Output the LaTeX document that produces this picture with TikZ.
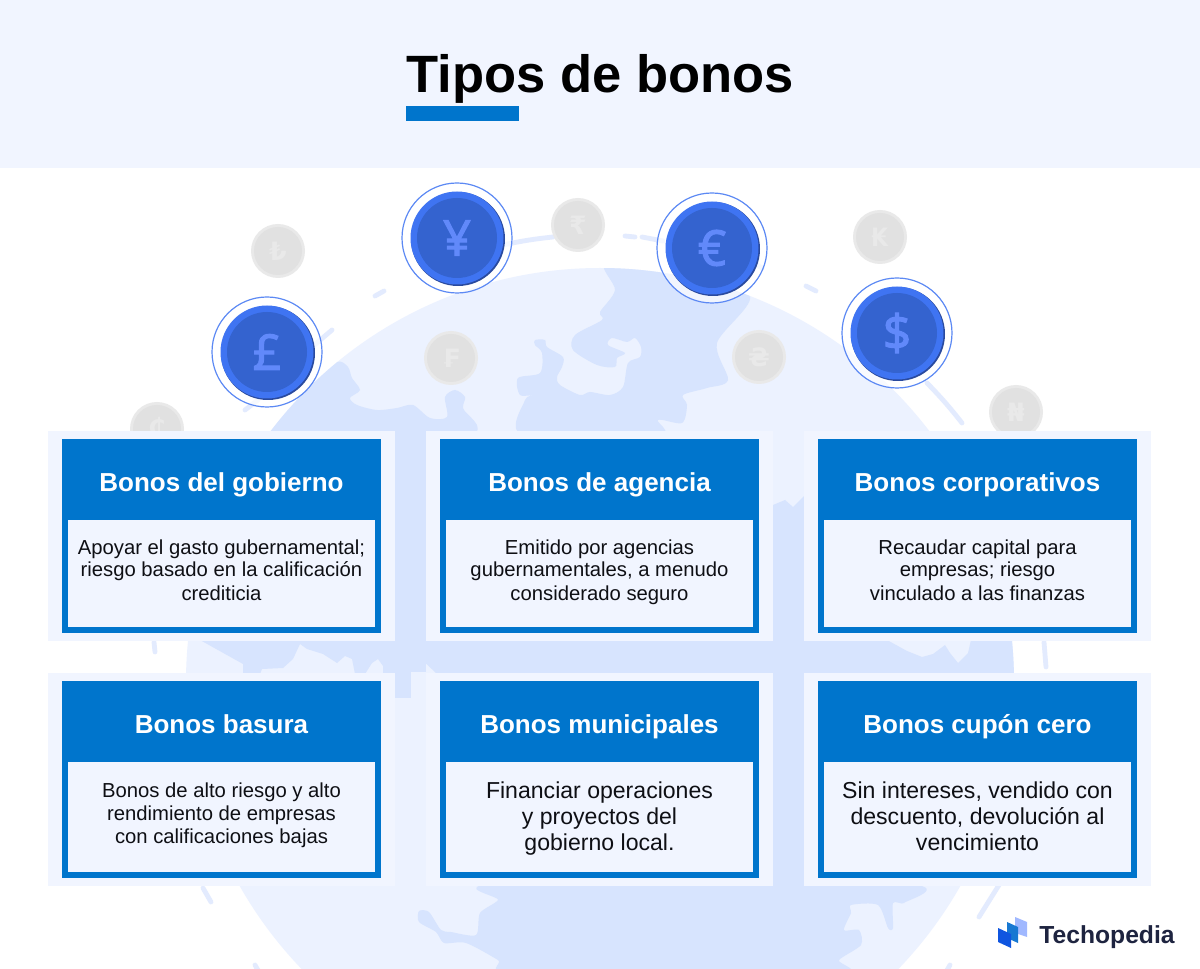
\documentclass[tikz,border=0pt]{standalone}
\usepackage{fontspec}
\setmainfont{Liberation Sans}
\newfontfamily\symfont{DejaVu Sans}
\newfontfamily\coinfont[FakeBold=2]{Noto Sans}
\usetikzlibrary{calc}
\definecolor{band}{HTML}{F1F5FF}
\definecolor{globe}{HTML}{ECF2FF}
\definecolor{land}{HTML}{D7E4FE}
\definecolor{orbit}{HTML}{E3EBFE}
\definecolor{cardblue}{HTML}{0075CC}
\definecolor{coinring}{HTML}{3F74F2}
\definecolor{coinedge}{HTML}{2A4A9E}
\definecolor{coininner}{HTML}{3463CF}
\definecolor{coinsym}{HTML}{6189FA}
\definecolor{graycoin}{HTML}{E1E1E1}
\definecolor{grayring}{HTML}{E9E9E9}
\definecolor{graysym}{HTML}{E9E9E9}
\definecolor{ink}{HTML}{0E0F14}
\definecolor{logoink}{HTML}{1E2440}
\tikzset{
  px/.style={x=0.75pt,y=-0.75pt},
  landshape/.style={fill=land,draw=none},
  orbitdash/.style={draw=orbit,line width=3.6pt,line cap=round},
  headtext/.style={text=white,font=\fontsize{19.5pt}{22pt}\selectfont\bfseries,inner sep=0pt,anchor=base},
  bodytext/.style={text=ink,align=center,font=\fontsize{15.2pt}{17.25pt}\selectfont,inner sep=0pt,anchor=base},
  bigbody/.style={text=ink,align=center,font=\fontsize{17.3pt}{19.5pt}\selectfont,inner sep=0pt,anchor=base},
  coinsymbol/.style={text=coinsym,font=\coinfont\fontsize{37pt}{37pt}\selectfont,inner sep=0pt},
  graysymbol/.style={text=graysym,font=\symfont\bfseries\fontsize{19pt}{19pt}\selectfont,inner sep=0pt},
}
\newcommand{\bluecoin}[4]{%
  \fill[white,opacity=.65] (#1,#2) circle (55);
  \draw[coinring!85!white,line width=0.9pt] (#1,#2) circle (55);
  \fill[coinedge] (#1+1,#2+1) circle (47);
  \fill[coinring] (#1,#2) circle (46.5);
  \fill[coininner] (#1,#2) circle (40);
  \node[coinsymbol] (#4) at (#1,#2) {#3};
}
\newcommand{\greycoin}[4]{%
  \fill[grayring] (#1,#2) circle (27);
  \fill[graycoin] (#1,#2) circle (24);
  \node[graysymbol] (#4) at (#1,#2) {#3};
}
\newcommand{\cardbox}[8]{%
  \fill[band] (#1-14,#2-8) rectangle (#1+333,#2+#3+8);
  \fill[cardblue] (#1,#2) rectangle (#1+319,#2+#3);
  \fill[band] (#1+6,#2+81) rectangle (#1+313,#2+#3-6);
  \node[headtext] (#4h) at (#1+159.5,#2+52.5) {#5};
  \node[#8] (#4b) at (#1+159.5,#7) {#6};
}
\begin{document}
\begin{tikzpicture}[px]
\useasboundingbox (0,0) rectangle (1200,969);
\fill[white] (0,0) rectangle (1200,969);
\fill[band] (0,0) rectangle (1200,168);
% globe
\begin{scope}
\clip (0,168) rectangle (1200,969);
\fill[globe] (600,682) circle (414);
\clip (600,682) circle (414);
% left land
\fill[landshape] plot[smooth cycle,tension=.5] coordinates {(272,435)(287,407)(313,383)(337,362)(348,367)(352,378)(360,390)(350,398)(357,405)(377,410)(397,408)(413,405)(430,418)(447,417)(445,397)(455,390)(465,397)(463,408)(467,435)};
% central land
\fill[landshape] plot[smooth cycle,tension=.5] coordinates {(607,262)(615,290)(600,312)(602,320)(575,335)(573,350)(597,365)(615,367)(617,358)(625,353)(608,345)(612,338)(627,342)(635,338)(641,347)(640,357)(628,363)(623,387)(610,395)(590,392)(580,395)(560,385)(557,377)(562,367)(563,357)(547,347)(545,340)(535,340)(535,345)(542,353)(540,373)(518,378)(520,395)(535,395)(525,400)(524,436)(658,436)(658,420)(682,423)(687,405)(683,395)(707,388)(728,380)(717,343)(750,297)(700,270)};
% row gap and column gaps
\fill[landshape] (395,431) rectangle (426,672);
\fill[landshape] (395,672) rectangle (411,698);
\fill[landshape] (773,505) -- (785,500) -- (793,507) -- (805,495) -- (805,900) -- (773,900) -- cycle;
\fill[landshape] (200,640) -- (243,664) -- (243,674) -- (260,674) -- (262,669) -- (283,668) -- (293,659) -- (300,644) -- (307,649) -- (323,654) -- (337,663) -- (345,656) -- (352,659) -- (355,674) -- (365,674) -- (372,663) -- (378,659) -- (383,666) -- (383,674) -- (395,674) -- (395,640) -- cycle;
\fill[landshape] (411,640) -- (411,660) -- (417,655) -- (437,674) -- (1020,674) -- (1020,640) -- (971,640) -- (968,653) -- (958,663) -- (950,653) -- (945,645) -- (933,654) -- (922,657) -- (907,651) -- (887,640) -- cycle;
% bottom land
\fill[landshape] plot[smooth cycle,tension=.45] coordinates {(498,884)(498,900)(480,913)(476,935)(451,932)(441,930)(429,912)(419,911)(419,922)(436,932)(444,943)(466,943)(498,960)(520,975)(834,975)(839,960)(861,945)(859,930)(844,930)(851,913)(851,905)(878,905)(888,928)(893,928)(893,903)(904,903)(904,884)};
\end{scope}
% orbit dashes
\draw[orbitdash] (245,410) -- (258,400);
\draw[orbitdash] (312,347) -- (332,330);
\draw[orbitdash] (375,296) -- (384,291);
\draw[orbitdash] (503,245) to[bend left=3] (553,237);
\draw[orbitdash] (625,236) -- (635,237);
\draw[orbitdash] (642,237) -- (663,241);
\draw[orbitdash] (757,265) -- (762,268);
\draw[orbitdash] (806,286) -- (816,291);
\draw[orbitdash] (927,383) to[bend left=3] (962,423);
\draw[orbitdash] (1044,642) -- (1046,667);
\draw[orbitdash] (154,642) -- (155,652);
\draw[orbitdash] (203,888) -- (211,902);
\draw[orbitdash] (999,885) -- (979,917);
\draw[orbitdash] (950,965) -- (946,972);
\draw[orbitdash] (255,965) -- (259,972);
% grey coins
\greycoin{278}{251}{₺}{coinTry}
\greycoin{578}{225}{₹}{coinInr}
\greycoin{451}{358}{₣}{coinFrf}
\greycoin{880}{237}{₭}{coinKip}
\greycoin{759}{357}{₴}{coinUah}
\greycoin{1016}{412}{₦}{coinNgn}
\greycoin{157}{429}{₵}{coinGhs}
% blue coins
\bluecoin{267}{352}{£}{coinGbp}
\bluecoin{457}{238}{¥}{coinJpy}
\bluecoin{712}{248}{€}{coinEur}
\bluecoin{897}{333}{\$}{coinUsd}
% title
\node[font=\fontsize{39.4pt}{44pt}\selectfont\bfseries,text=black,inner sep=0pt,anchor=base] (title) at (600,93) {Tipos de bonos};
\fill[cardblue] (406,106) rectangle (519,121);
% cards
\cardbox{62}{439}{194}{a}{Bonos del gobierno}{Apoyar el gasto gubernamental;\\riesgo basado en la calificación\\crediticia}{600}{bodytext}
\cardbox{440}{439}{194}{b}{Bonos de agencia}{Emitido por agencias\\gubernamentales, a menudo\\considerado seguro}{600}{bodytext}
\cardbox{818}{439}{194}{c}{Bonos corporativos}{Recaudar capital para\\empresas; riesgo\\vinculado a las finanzas}{600}{bodytext}
\cardbox{62}{681}{197}{d}{Bonos basura}{Bonos de alto riesgo y alto\\rendimiento de empresas\\con calificaciones bajas}{843}{bodytext}
\cardbox{440}{681}{197}{e}{Bonos municipales}{Financiar operaciones\\y proyectos del\\gobierno local.}{850}{bigbody}
\cardbox{818}{681}{197}{f}{Bonos cupón cero}{Sin intereses, vendido con\\descuento, devolución al\\vencimiento}{850}{bigbody}
% logo
\fill[color={rgb,255:red,160;green,184;blue,255}] (1015,917) -- (1027,922) -- (1027,937) -- (1015,933) -- cycle;
\fill[color={rgb,255:red,23;green,120;blue,210}] (1007,922) -- (1018,927) -- (1018,943) -- (1007,938) -- cycle;
\fill[color={rgb,255:red,15;green,85;blue,224}] (998,928) -- (1011,934) -- (1011,948) -- (998,942) -- cycle;
\node[text=logoink,font=\fontsize{18.5pt}{20pt}\selectfont\bfseries,inner sep=0pt,anchor=base] (logo) at (1107,943) {Techopedia};
\end{tikzpicture}
\end{document}
